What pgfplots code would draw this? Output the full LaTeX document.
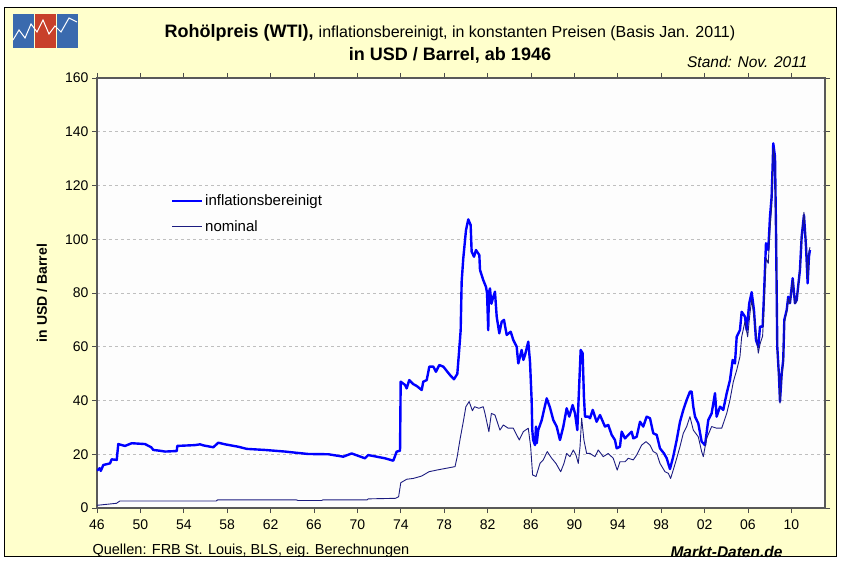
\documentclass[border=0pt]{standalone}
\usepackage{pgfplots}
\pgfplotsset{compat=1.18}
\usepackage{fontspec}
\setmainfont{Liberation Sans}
\definecolor{bgyellow}{HTML}{FFFFCC}
\definecolor{plotbg}{HTML}{FDFDFD}
\definecolor{infl}{HTML}{0000FF}
\definecolor{nom}{HTML}{1C1C80}
\definecolor{logoblue}{HTML}{3A6AAE}
\definecolor{logored}{HTML}{C8402A}
\begin{document}
\begin{tikzpicture}[x=1pt,y=1pt]
\fill[white] (-97,-55) rectangle (746,508);
\fill[bgyellow] (-92,-48) rectangle (739,500);
\draw[black, line width=1pt] (-92,-48) rectangle (739,500);
\fill[plotbg] (0,0) rectangle (728,430);
% logo
\fill[logoblue] (-84,460) rectangle (-63,494);
\fill[logored] (-62,460) rectangle (-41,494);
\fill[logoblue] (-40,460) rectangle (-19,494);
\draw[white, line width=1pt] (-84,468) -- (-78,478) -- (-72,470) -- (-66,484) -- (-60,476) -- (-54,488) -- (-48,474) -- (-42,482) -- (-36,476) -- (-28,490) -- (-20,486);
\begin{axis}[at={(0,0)}, anchor=south west, scale only axis,
  width=728pt, height=430pt,
  xmin=1946, xmax=2013.1, ymin=0, ymax=160,
  xtick={1946,1950,...,2010},
  xticklabels={46,50,54,58,62,66,70,74,78,82,86,90,94,98,02,06,10},
  ytick={0,20,...,160},
  tick align=outside, major tick length=5pt,
  tick style={color=gray!60!black, line width=0.8pt},
  ymajorgrids, grid style={dashed, color=gray!50, line width=0.8pt},
  axis line style={draw=gray!70!black, line width=1.3pt},
  ticklabel style={font=\fontsize{14}{16}\selectfont},
  xticklabel style={yshift=-3pt},
  /pgf/number format/assume math mode=true,
  legend style={at={(0.097,0.738)}, anchor=north west, draw=none, fill=none,
    font=\fontsize{15}{17}\selectfont, row sep=9pt},
  legend cell align=left,
  legend image code/.code={\draw[#1] (0pt,0pt) -- (30pt,0pt);},
]
\addplot[infl, line width=2.4pt, line join=round] coordinates {
(1946.00,13.9) (1946.25,14.8) (1946.35,13.8) (1946.58,16.0) (1947.20,16.6) (1947.35,18.1) (1947.82,17.9)
(1947.96,23.8) (1948.30,23.4) (1948.58,23.1) (1949.20,24.1) (1950.42,23.8) (1951.00,22.6) (1951.19,21.6)
(1951.81,21.3) (1952.27,21.0) (1953.35,21.2) (1953.40,23.1) (1955.03,23.4) (1955.50,23.7) (1955.80,23.3)
(1956.72,22.6) (1957.18,24.3) (1957.80,23.7) (1959.02,22.8) (1959.80,22.0) (1961.48,21.6) (1963.33,21.0)
(1964.25,20.6) (1965.47,20.1) (1967.32,20.0) (1968.70,19.1) (1969.47,20.3) (1970.70,18.5) (1971.00,19.7)
(1972.54,18.5) (1973.31,17.6) (1973.62,21.0) (1973.93,21.3) (1973.99,47.0) (1974.39,45.8) (1974.54,44.5)
(1974.78,47.6) (1975.15,46.1) (1975.47,45.4) (1975.93,43.9) (1976.07,47.0) (1976.39,47.6) (1976.63,52.6)
(1977.00,52.6) (1977.24,50.7) (1977.55,53.2) (1977.92,52.6) (1978.53,49.5) (1978.90,47.9) (1979.21,49.9)
(1979.36,57.6) (1979.52,66.2) (1979.61,84.2) (1979.76,92.9) (1980.01,103.4) (1980.22,107.4) (1980.44,105.3)
(1980.53,95.4) (1980.75,93.5) (1980.93,96.0) (1981.24,94.1) (1981.30,88.6) (1981.60,84.8) (1981.85,82.3)
(1981.95,80.0) (1982.06,66.2) (1982.12,80.0) (1982.22,81.7) (1982.35,76.0) (1982.53,78.6) (1982.68,80.5)
(1982.84,71.2) (1983.08,65.0) (1983.30,69.3) (1983.51,70.0) (1983.76,64.4) (1984.13,65.6) (1984.37,62.5)
(1984.68,60.0) (1984.83,53.8) (1985.14,58.8) (1985.30,55.1) (1985.45,56.9) (1985.75,61.9) (1985.91,54.4)
(1986.06,40.2) (1986.12,29.0) (1986.20,25.3) (1986.37,23.4) (1986.46,30.3) (1986.53,24.1) (1986.67,29.0)
(1986.99,32.7) (1987.20,36.5) (1987.45,40.8) (1987.75,37.4) (1988.06,32.7) (1988.37,30.3) (1988.67,25.3)
(1988.98,30.3) (1989.29,37.1) (1989.53,34.0) (1989.84,38.3) (1990.06,35.2) (1990.27,29.0) (1990.58,58.8)
(1990.76,57.6) (1990.88,41.4) (1990.98,34.0) (1991.28,34.0) (1991.44,33.4) (1991.69,36.5) (1992.05,32.1)
(1992.36,34.6) (1992.82,30.3) (1993.12,30.9) (1993.44,27.2) (1993.74,25.3) (1993.90,22.2) (1994.20,22.8)
(1994.36,28.4) (1994.66,25.9) (1994.97,27.2) (1995.28,28.4) (1995.43,25.9) (1995.74,26.5) (1996.05,32.1)
(1996.35,30.3) (1996.66,34.0) (1996.97,33.4) (1997.27,27.8) (1997.59,27.2) (1997.89,22.2) (1998.26,20.3)
(1998.51,18.5) (1998.81,14.5) (1999.11,19.1) (1999.43,25.3) (1999.73,32.0) (2000.04,36.5) (2000.35,40.2)
(2000.65,43.3) (2000.81,43.3) (2000.96,37.7) (2001.12,34.0) (2001.42,31.5) (2001.73,24.7) (2002.04,23.4)
(2002.34,32.7) (2002.65,35.2) (2002.96,42.7) (2003.11,34.0) (2003.42,37.7) (2003.72,36.5) (2004.04,42.7)
(2004.34,47.6) (2004.59,55.1) (2004.80,53.8) (2004.96,63.7) (2005.26,66.2) (2005.42,73.0) (2005.72,71.2)
(2005.88,66.2) (2006.12,76.2) (2006.34,80.3) (2006.55,73.7) (2006.74,62.5) (2006.95,60.0) (2007.11,67.5)
(2007.35,67.5) (2007.47,78.6) (2007.66,98.5) (2007.87,96.0) (2008.03,108.4) (2008.18,115.8) (2008.28,128.3)
(2008.33,135.7) (2008.49,130.7) (2008.58,104.7) (2008.70,60.0) (2008.86,48.9) (2008.95,39.6) (2009.11,50.1)
(2009.25,55.1) (2009.35,70.0) (2009.57,73.7) (2009.71,78.6) (2009.87,76.2) (2010.12,85.5) (2010.33,76.2)
(2010.49,77.4) (2010.79,88.6) (2010.95,101.0) (2011.16,109.0) (2011.35,97.2) (2011.50,83.6) (2011.62,93.5)
(2011.71,96.0)
};
\addlegendentry{inflationsbereinigt}
\addplot[nom, line width=0.9pt, line join=round] coordinates {
(1946.00,1.0) (1947.80,1.75) (1948.10,2.6) (1957.00,2.6) (1957.10,3.0) (1964.40,3.0) (1964.50,2.8)
(1966.70,2.8) (1966.80,3.0) (1970.90,3.0) (1971.00,3.4) (1973.50,3.6) (1973.80,4.2) (1974.00,9.4)
(1974.54,10.7) (1975.15,11.0) (1975.93,11.9) (1976.60,13.5) (1977.30,14.1) (1979.00,15.4) (1979.20,19.1)
(1979.45,25.3) (1979.76,32.1) (1980.00,37.7) (1980.30,39.6) (1980.60,36.2) (1980.80,37.7) (1981.20,37.1)
(1981.60,37.7) (1981.76,35.2) (1982.12,28.4) (1982.35,35.2) (1982.68,34.6) (1983.14,29.0) (1983.45,30.9)
(1983.90,29.7) (1984.37,29.7) (1984.92,25.3) (1985.29,28.4) (1985.75,29.7) (1985.97,22.8) (1986.15,12.3)
(1986.46,11.7) (1986.83,16.6) (1987.13,17.9) (1987.50,21.0) (1987.91,18.5) (1988.30,16.6) (1988.74,13.5)
(1989.04,16.6) (1989.29,20.3) (1989.59,19.1) (1989.90,21.6) (1990.15,19.7) (1990.36,16.6) (1990.52,22.8)
(1990.67,33.4) (1990.88,25.3) (1991.13,20.3) (1991.44,20.3) (1991.90,19.1) (1992.20,21.6) (1992.66,19.1)
(1993.12,20.3) (1993.58,18.5) (1993.95,14.1) (1994.20,17.2) (1994.66,17.2) (1994.97,18.5) (1995.43,17.9)
(1995.74,19.7) (1996.20,23.4) (1996.60,24.7) (1996.97,23.4) (1997.27,21.0) (1997.59,20.3) (1997.89,16.6)
(1998.35,13.5) (1998.66,12.9) (1998.87,11.0) (1999.11,14.1) (1999.43,18.5) (1999.73,22.8) (2000.04,27.8)
(2000.35,30.3) (2000.65,34.0) (2000.96,29.0) (2001.42,26.5) (2001.73,21.0) (2001.88,19.1) (2002.19,25.9)
(2002.65,30.3) (2003.11,29.7) (2003.58,29.7) (2004.04,35.2) (2004.34,40.2) (2004.65,47.0) (2004.96,51.3)
(2005.26,56.3) (2005.42,63.7) (2005.72,69.3) (2005.97,63.7) (2006.18,72.4) (2006.34,77.4) (2006.65,68.7)
(2006.95,57.6) (2007.11,61.0) (2007.35,64.0) (2007.47,74.0) (2007.66,93.0) (2007.87,91.0) (2008.03,104.0)
(2008.18,112.0) (2008.28,126.0) (2008.33,133.9) (2008.49,129.0) (2008.58,104.0) (2008.70,59.0) (2008.86,48.0)
(2008.95,39.0) (2009.11,49.0) (2009.25,54.0) (2009.35,69.0) (2009.57,73.0) (2009.71,78.0) (2009.87,76.0)
(2010.12,85.0) (2010.33,76.0) (2010.49,77.0) (2010.79,88.5) (2010.95,101.0) (2011.16,110.0) (2011.35,98.0)
(2011.50,85.0) (2011.62,95.0) (2011.71,97.0)
};
\addlegendentry{nominal}
\end{axis}
\node[font=\fontsize{18}{21}\selectfont] at (353,475) {\textbf{Rohölpreis (WTI),} {\fontsize{16}{19}\selectfont inflationsbereinigt, in konstanten Preisen (Basis Jan. 2011)}};
\node[font=\bfseries\fontsize{18}{21}\selectfont] at (353,453) {in USD / Barrel, ab 1946};
\node[anchor=east, font=\itshape\fontsize{15.5}{18}\selectfont] at (714,446) {Stand: Nov. 2011};
\node[rotate=90, font=\bfseries\fontsize{14}{16}\selectfont] at (-55,215) {in USD / Barrel};
\node[anchor=west, font=\fontsize{14.5}{17}\selectfont] at (-8,-43) {Quellen: FRB St. Louis, BLS, eig. Berechnungen};
\node[anchor=east, font=\bfseries\itshape\fontsize{15.5}{18}\selectfont] at (689,-44) {Markt-Daten.de};
\pgfresetboundingbox
\path (-97,-55) rectangle (746,508);
\end{tikzpicture}
\end{document}
